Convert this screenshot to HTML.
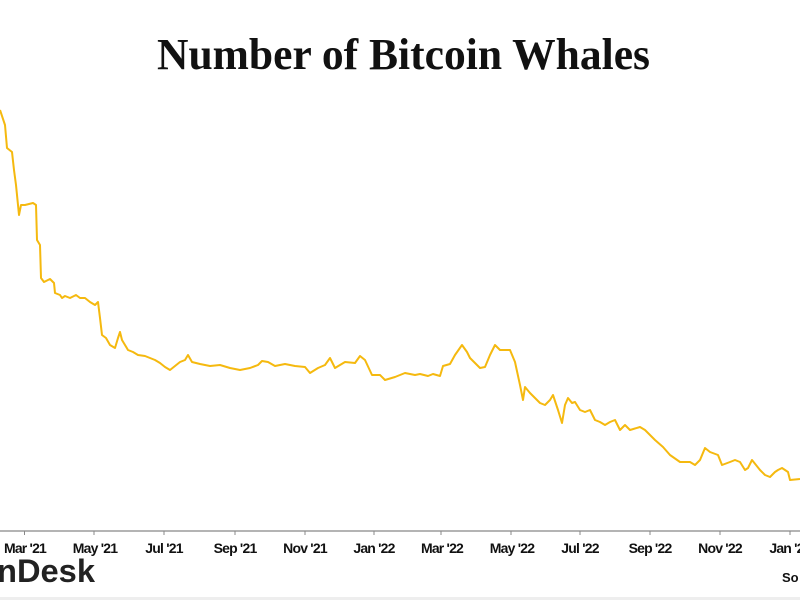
<!DOCTYPE html>
<html><head><meta charset="utf-8"><style>
body{margin:0;background:#fff;width:800px;height:600px;overflow:hidden}
</style></head><body>
<svg width="800" height="600" xmlns="http://www.w3.org/2000/svg">
<rect width="800" height="600" fill="#fff"/>
<rect y="597" width="800" height="3" fill="#eee"/>
<text x="157" y="69" textLength="493" lengthAdjust="spacingAndGlyphs" font-family="Liberation Serif, serif" font-weight="bold" font-size="44" fill="#111">Number of Bitcoin Whales</text>
<line x1="0" y1="531" x2="800" y2="531" stroke="#888" stroke-width="1.2"/>
<g stroke="#888" stroke-width="1">
<line x1="24.5" y1="531" x2="24.5" y2="535"/><line x1="94" y1="531" x2="94" y2="535"/><line x1="164" y1="531" x2="164" y2="535"/><line x1="235" y1="531" x2="235" y2="535"/><line x1="305" y1="531" x2="305" y2="535"/><line x1="374" y1="531" x2="374" y2="535"/><line x1="441" y1="531" x2="441" y2="535"/><line x1="511" y1="531" x2="511" y2="535"/><line x1="580" y1="531" x2="580" y2="535"/><line x1="650" y1="531" x2="650" y2="535"/><line x1="720" y1="531" x2="720" y2="535"/><line x1="790" y1="531" x2="790" y2="535"/>
</g>
<g font-family="Liberation Sans, sans-serif" font-weight="bold" font-size="14" fill="#111" text-anchor="middle" letter-spacing="-0.8">
<text x="25" y="553">Mar '21</text><text x="95" y="553">May '21</text><text x="164" y="553">Jul '21</text><text x="235" y="553">Sep '21</text><text x="305" y="553">Nov '21</text><text x="374" y="553">Jan '22</text><text x="442" y="553">Mar '22</text><text x="512" y="553">May '22</text><text x="580" y="553">Jul '22</text><text x="650" y="553">Sep '22</text><text x="720" y="553">Nov '22</text><text x="790" y="553">Jan '23</text>
</g>
<text x="-3" y="582" textLength="98" lengthAdjust="spacingAndGlyphs" font-family="Liberation Sans, sans-serif" font-weight="bold" font-size="32" fill="#222">nDesk</text>
<text x="782" y="582" font-family="Liberation Sans, sans-serif" font-weight="bold" font-size="13" fill="#111">So</text>
<polyline fill="none" stroke="#f5b90f" stroke-width="2" stroke-linejoin="round" points="0,110 5,125 7,148 12,152 14,170 16,185 19,215 21,205 25,205 33,203 36,205 37,240 40,245 41,278 44,282 50,279 54,283 55,293 60,295 62,298 65,296 70,298 76,295 80,298 85,298 90,302 95,305 98,302 100,318 102,335 106,338 110,345 115,348 118,338 120,332 122,340 125,345 128,350 133,352 138,355 145,356 150,358 155,360 160,363 165,367 170,370 175,366 180,362 185,360 188,355 192,362 200,364 210,366 220,365 230,368 240,370 250,368 258,365 262,361 268,362 275,366 285,364 295,366 305,367 310,373 318,368 325,365 330,358 335,368 345,362 355,363 360,356 365,360 372,375 380,375 385,380 395,377 405,373 415,375 420,374 428,376 433,374 440,376 443,366 450,364 455,355 462,345 467,352 470,358 475,363 480,368 485,367 490,355 495,345 500,350 510,350 515,362 520,385 523,400 525,387 530,393 540,403 545,405 550,400 553,395 558,410 562,423 565,405 568,398 572,403 575,402 580,410 585,412 590,410 595,420 600,422 605,425 610,422 615,420 620,430 625,425 630,430 640,427 645,430 652,437 655,440 663,447 670,455 680,462 690,462 695,465 700,460 705,448 710,452 718,455 722,465 730,462 735,460 740,462 745,470 748,468 752,460 760,470 765,475 770,477 775,472 778,470 782,468 788,472 790,480 800,479"/>
</svg>
</body></html>
